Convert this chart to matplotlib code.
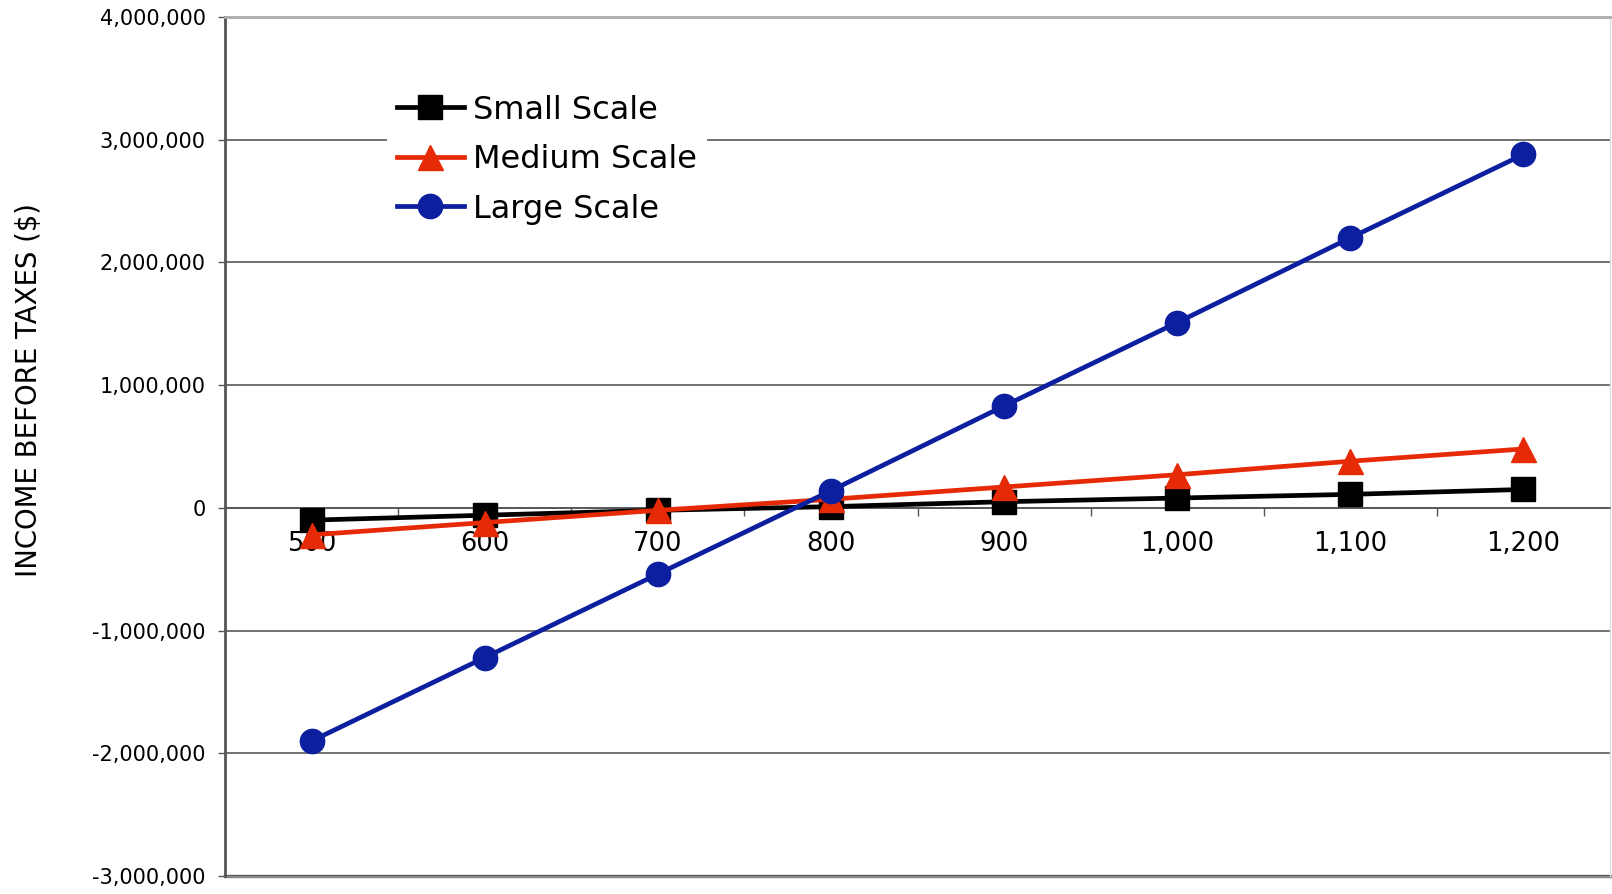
import matplotlib.pyplot as plt
from matplotlib.ticker import FuncFormatter, MultipleLocator, FixedLocator

# production volume (categories) and income before taxes ($)
volumes = [500, 600, 700, 800, 900, 1000, 1100, 1200]
small_scale = [-100000, -60000, -20000, 10000, 50000, 80000, 110000, 150000]
medium_scale = [-220000, -120000, -20000, 70000, 170000, 270000, 380000, 480000]
large_scale = [-1900000, -1220000, -540000, 140000, 830000, 1510000, 2200000, 2880000]

W, H = 1612, 894
fig = plt.figure(figsize=(W / 100, H / 100), dpi=100)
ax = fig.add_axes([225 / W, 1 - 876 / H, (1610 - 225) / W, (876 - 17) / H])

ax.plot(volumes, small_scale, color="black", lw=3.4, marker="s", ms=17,
        label="Small Scale", zorder=3)
ax.plot(volumes, medium_scale, color="#e62a06", lw=3.4, marker="^", ms=18,
        label="Medium Scale", zorder=3)
ax.plot(volumes, large_scale, color="#0b1f9f", lw=3.4, marker="o", ms=17.5,
        label="Large Scale", zorder=4)

ax.set_xlim(450, 1250)
ax.set_ylim(-3000000, 4000000)

# horizontal gridlines every million
ax.yaxis.set_major_locator(MultipleLocator(1000000))
ax.yaxis.set_major_formatter(FuncFormatter(lambda v, p: f"{v:,.0f}"))
ax.grid(axis="y", color="#4a4a4a", lw=1.1, zorder=0)
ax.tick_params(axis="y", length=5, width=1, color="#555555", pad=9,
               labelsize=15)

# category axis sitting on zero
ax.spines["bottom"].set_position(("data", 0))
ax.spines["bottom"].set_color("#555555")
ax.spines["bottom"].set_linewidth(1.2)
ax.xaxis.set_major_locator(FixedLocator(volumes))
ax.xaxis.set_major_formatter(FuncFormatter(lambda v, p: f"{v:,.0f}"))
ax.xaxis.set_minor_locator(FixedLocator([v + 50 for v in volumes[:-1]]))
ax.tick_params(axis="x", which="major", length=0, pad=17, labelsize=18.5)
ax.tick_params(axis="x", which="minor", length=6, width=1, color="#555555")

ax.spines["left"].set_color("#555555")
ax.spines["left"].set_linewidth(2)
ax.spines["top"].set_color("#aaaaaa")
ax.spines["top"].set_linewidth(2)
ax.spines["right"].set_color("#dddddd")
ax.spines["right"].set_linewidth(1)
ax.axhline(-3000000, color="#888888", lw=2.5, zorder=1, clip_on=False)

ax.set_ylabel("INCOME BEFORE TAXES ($)", fontsize=19.8)
ax.yaxis.set_label_coords(-0.1314, 0.566)

leg = ax.legend(loc="upper left", bbox_to_anchor=(387 / W, 1 - 85 / H),
                bbox_transform=fig.transFigure, fontsize=23, frameon=True,
                fancybox=False, edgecolor="none", facecolor="white",
                framealpha=1, borderpad=0.3, handlelength=2.1,
                handletextpad=0.3, labelspacing=0.58, borderaxespad=0)
leg.set_zorder(5)

fig.savefig("out.png", dpi=100)
